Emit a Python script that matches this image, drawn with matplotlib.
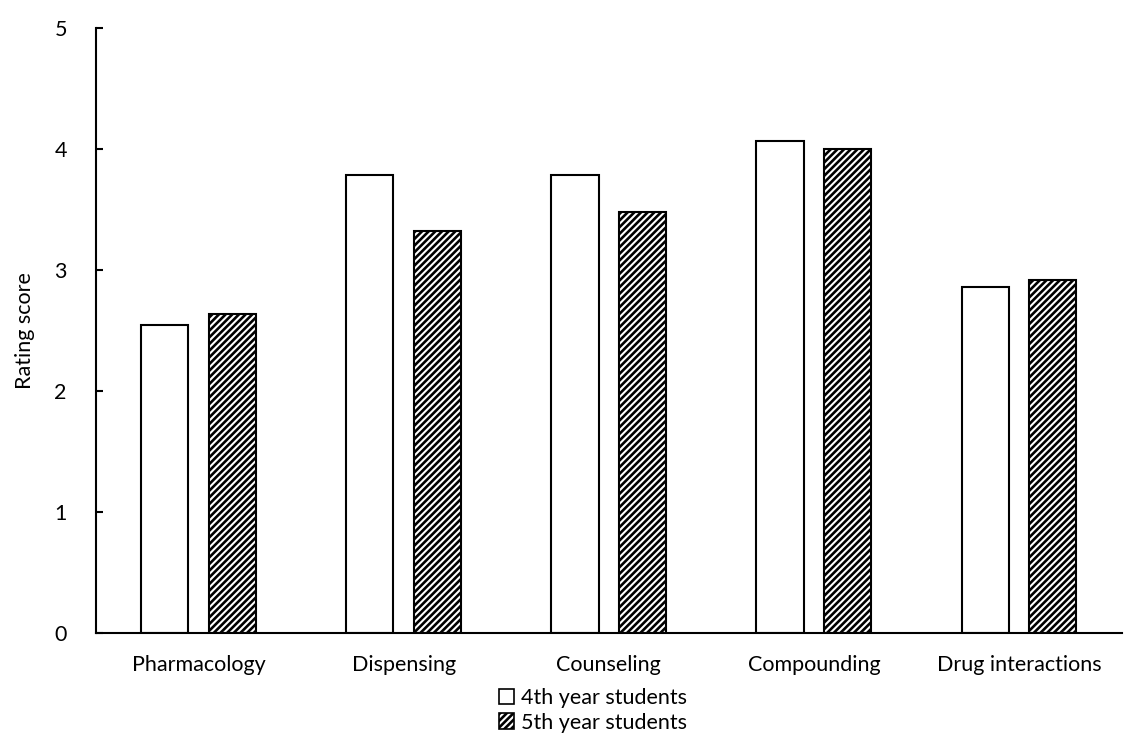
import numpy as np
import matplotlib
matplotlib.use("Agg")
import matplotlib.pyplot as plt
from matplotlib.patches import Patch

categories = ["Pharmacology", "Dispensing", "Counseling", "Compounding", "Drug interactions"]
year4 = [2.55, 3.79, 3.79, 4.07, 2.86]
year5 = [2.64, 3.32, 3.48, 4.00, 2.92]
series_names = ["4th year students", "5th year students"]

plt.rcParams["font.family"] = ["Lato", "DejaVu Sans"]
plt.rcParams["hatch.linewidth"] = 1.9
fs = 15.5
hatch = "/////"

fig = plt.figure(figsize=(11.25, 7.42), dpi=100)
ax = fig.add_axes([0.0853, 0.147, 0.9117, 0.815])

x = np.arange(len(categories))
w = 0.23
gap = 0.1
ax.bar(x - (w + gap) / 2, year4, w, color="white", edgecolor="black", linewidth=1.5)
ax.bar(x + (w + gap) / 2, year5, w, color="white", edgecolor="black", linewidth=1.5, hatch=hatch)

ax.set_xlim(-0.5, len(categories) - 0.5)
ax.set_ylim(0, 5)
ax.set_yticks(range(6))
ax.set_xticks(x)
ax.set_xticklabels(categories, fontsize=fs)
ax.tick_params(axis="y", direction="in", length=5, width=1.5, labelsize=fs, pad=21)
ax.tick_params(axis="x", length=0, pad=16)
ax.set_ylabel("Rating score", fontsize=fs, labelpad=14)

for s in ["top", "right"]:
    ax.spines[s].set_visible(False)
for s in ["left", "bottom"]:
    ax.spines[s].set_linewidth(1.5)

handles = [
    Patch(facecolor="white", edgecolor="black", linewidth=1.2, label=series_names[0]),
    Patch(facecolor="white", edgecolor="black", linewidth=1.2, hatch=hatch, label=series_names[1]),
]
fig.legend(handles=handles, loc="upper center", bbox_to_anchor=(0.527, 0.087), frameon=False,
           fontsize=fs, handlelength=0.7, handleheight=0.7, handletextpad=0.3, labelspacing=0.2,
           borderpad=0, ncol=1)

fig.savefig("out.png", dpi=100)
